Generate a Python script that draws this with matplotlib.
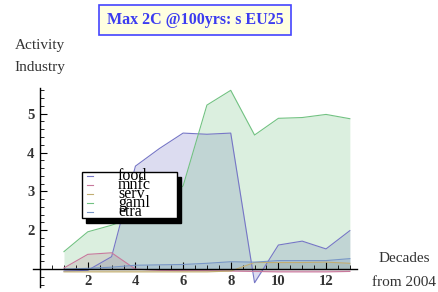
import numpy as np
import matplotlib
matplotlib.use('Agg')
import matplotlib.pyplot as plt
from matplotlib.patches import Rectangle
from matplotlib.lines import Line2D

plt.rcParams['font.family'] = ['Liberation Serif', 'DejaVu Serif']

decades = np.arange(1, 14)
series_names = ['food', 'mnfc', 'serv', 'gaml', 'etra']
food = [0.95, 0.97, 1.32, 3.65, 4.10, 4.50, 4.47, 4.50, 0.65, 1.62, 1.72, 1.52, 1.99]
mnfc = [1.03, 1.38, 1.42, 1.00, 0.97, 0.96, 0.96, 0.95, 0.94, 0.93, 0.93, 0.93, 0.94]
serv = [0.93, 0.93, 0.93, 0.93, 0.93, 0.93, 0.93, 0.95, 1.17, 1.17, 1.17, 1.18, 1.15]
gaml = [1.45, 1.96, 2.13, 2.35, 2.70, 3.14, 5.22, 5.60, 4.45, 4.88, 4.90, 4.98, 4.87]
etra = [1.00, 1.02, 1.05, 1.10, 1.11, 1.12, 1.15, 1.19, 1.18, 1.22, 1.22, 1.22, 1.27]
colors = ['#7676c6', '#c8789c', '#c2ae72', '#72c282', '#7896c6']
xticks = [2, 4, 6, 8, 10, 12]
yticks = [2, 3, 4, 5]

W, H = 438, 292
fig = plt.figure(figsize=(W / 100, H / 100), dpi=100)

def fx(px):
    return px / W

def fy(py):
    return 1 - py / H

ax = fig.add_axes([fx(33), fy(287), fx(357) - fx(33), fy(88) - fy(287)])
ax.set_xlim(-0.3, 13.3)
ax.set_ylim(0.54, 5.66)

for name, vals, c in zip(series_names, [food, mnfc, serv, gaml, etra], colors):
    ax.fill_between(decades, vals, 1, color=c, alpha=0.25, linewidth=0)
    ax.plot(decades, vals, color=c, lw=0.8)

for s in ['top', 'right']:
    ax.spines[s].set_visible(False)
ax.spines['left'].set_position(('data', 0))
ax.spines['bottom'].set_position(('data', 1))
ax.spines['left'].set_linewidth(1.0)
ax.spines['bottom'].set_linewidth(1.0)

ax.set_xticks(xticks)
ax.set_xticks(np.arange(0.5, 13.01, 0.5), minor=True)
ax.set_yticks(yticks)
ax.set_yticks(np.arange(0.6, 5.61, 0.2), minor=True)
ax.tick_params(which='major', direction='in', length=5, width=0.8, pad=4,
               labelsize=10.5, labelcolor='#333333')
ax.tick_params(which='minor', direction='in', length=3, width=0.6)
for lab in ax.get_xticklabels() + ax.get_yticklabels():
    lab.set_fontweight('bold')

# axis labels
fig.text(fx(40), fy(46), 'Activity', ha='center', va='center', fontsize=11, color='#333333')
fig.text(fx(40), fy(68), 'Industry', ha='center', va='center', fontsize=11, color='#333333')
fig.text(fx(404), fy(258), 'Decades', ha='center', va='center', fontsize=11, color='#333333')
fig.text(fx(404), fy(283), 'from 2004', ha='center', va='center', fontsize=11, color='#333333')

# title box
fig.text(fx(195), fy(20), 'Max 2C @100yrs: s EU25', ha='center', va='center',
         fontsize=11.5, fontweight='bold', color='#3c3cf0',
         bbox=dict(boxstyle='square,pad=0.45', facecolor='#ffffe0', edgecolor='#4444ff', lw=1.2))

# legend with drop shadow
lx0, ly0, lx1, ly1 = 82, 172, 177, 218
fig.add_artist(Rectangle((fx(lx0 + 4), fy(ly1 + 5)), fx(lx1 - lx0), fy(ly0) - fy(ly1),
                         transform=fig.transFigure, facecolor='black', edgecolor='black', zorder=5))
fig.add_artist(Rectangle((fx(lx0), fy(ly1)), fx(lx1 - lx0), fy(ly0) - fy(ly1),
                         transform=fig.transFigure, facecolor='white', edgecolor='black', lw=1, zorder=6))
for i, (name, c) in enumerate(zip(series_names, colors)):
    yy = 176 + i * 9
    fig.add_artist(Line2D([fx(87), fx(93)], [fy(yy), fy(yy)], color=c, lw=0.8,
                          transform=fig.transFigure, zorder=7))
    fig.text(fx(118), fy(yy), name, ha='left', va='center', fontsize=11.5,
             color='black', zorder=8)

fig.savefig('out.png', dpi=100)
